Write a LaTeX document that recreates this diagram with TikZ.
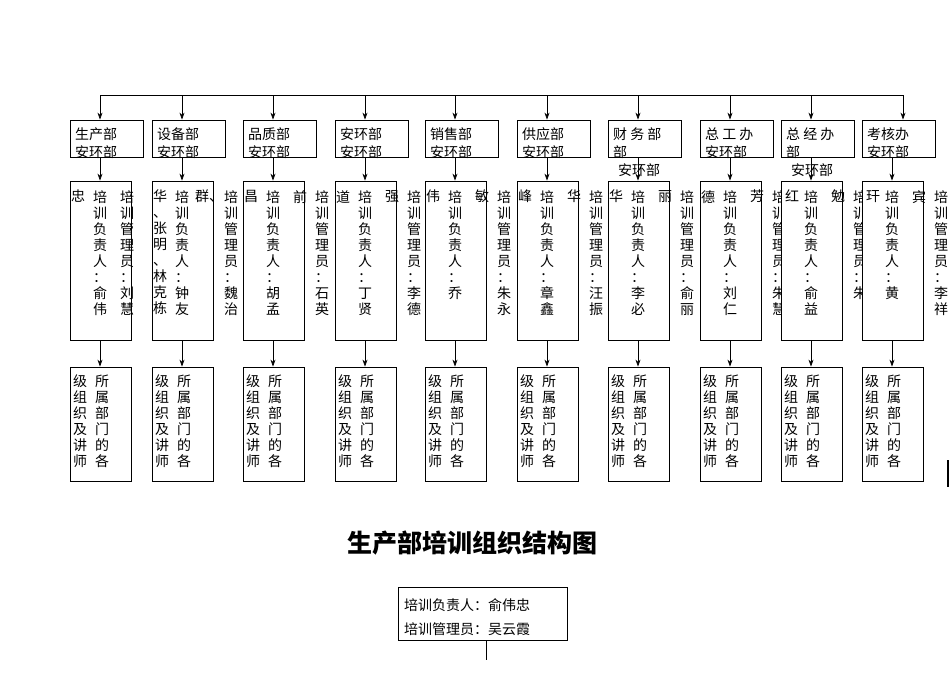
\documentclass[tikz,border=0pt]{standalone}
\usepackage{fontspec}
\newfontfamily\cjk{Noto Sans CJK SC}
\usetikzlibrary{arrows.meta}
\tikzset{
  box/.style={draw, line width=0.8pt, fill=white, inner sep=0pt},
  vt/.style={anchor=north, align=center, inner sep=0pt, font=\cjk\fontsize{14}{16}\selectfont},
  ht/.style={anchor=west, inner sep=0pt, font=\cjk\fontsize{14}{16}\selectfont},
  arr/.style={-{Stealth[length=7pt,width=5pt]}, line width=0.7pt},
  ln/.style={line width=0.7pt}
}
\newcommand{\vcol}[4]{\node[vt] (#1) at (#2,#3) {#4};}
\begin{document}
\begin{tikzpicture}[x=1pt,y=-1pt]
\useasboundingbox (0,0) rectangle (950,672);
\coordinate (tl) at (100,95);
\coordinate (tr) at (903,95);
\draw[ln] (tl) -- (tr);
\foreach \i/\L/\tx/\ta/\tb/\ma/\mb/\mc/\md in {
 1/70/生产部/安环部//忠/培\\训\\负\\责\\人\\：\\俞\\伟/培\\训\\管\\理\\员\\：\\刘\\慧/{},
 2/152/设备部/安环部//华\\、\\张\\明\\、\\林\\克\\栋/培\\训\\负\\责\\人\\：\\钟\\友/群、/培\\训\\管\\理\\员\\：\\魏\\治,
 3/243/品质部/安环部//昌/培\\训\\负\\责\\人\\：\\胡\\孟/前/培\\训\\管\\理\\员\\：\\石\\英,
 4/335/安环部/安环部//道/培\\训\\负\\责\\人\\：\\丁\\贤/强/培\\训\\管\\理\\员\\：\\李\\德,
 5/425/销售部/安环部//伟/培\\训\\负\\责\\人\\：\\乔/敏/培\\训\\管\\理\\员\\：\\朱\\永,
 6/517/供应部/安环部//峰/培\\训\\负\\责\\人\\：\\章\\鑫/华/培\\训\\管\\理\\员\\：\\汪\\振,
 7/608/财\ 务\ 部/部/安环部/华/培\\训\\负\\责\\人\\：\\李\\必/丽/培\\训\\管\\理\\员\\：\\俞\\丽,
 8/700/总\ 工\ 办/安环部//德/培\\训\\负\\责\\人\\：\\刘\\仁/芳/培\\训\\管\\理\\员\\：\\朱\\慧,
 9/781/总\ 经\ 办/部/安环部/红/培\\训\\负\\责\\人\\：\\俞\\益/勉/培\\训\\管\\理\\员\\：\\朱,
 10/862/考核办/安环部//玕/培\\训\\负\\责\\人\\：\\黄/宾/培\\训\\管\\理\\员\\：\\李\\祥}{
  \pgfmathsetmacro{\ax}{\L+30}
  \pgfmathsetmacro{\tax}{ifthenelse(\i==10,903,\L+30)}
  \pgfmathsetmacro{\mx}{ifthenelse(\i>8,\L+11,\L+8)}
  \node[box, minimum width=73pt, minimum height=37pt] (top\i) at (\L+36.5,138.5) {};
  \draw[arr] (\tax,95) -- (top\i.north -| \tax,0);
  \node[ht] (tl\i) at (\L+5,134) {\tx};
  \node[ht] (tm\i) at (\L+5,152) {\ta};
  \node[ht] (tn\i) at (\L+10,170) {\tb};
  \node[box, minimum width=61pt, minimum height=159pt] (mid\i) at (\L+30.5,260.5) {};
  \draw[arr] (\ax,157) -- (mid\i.north -| \ax,0);
  \vcol{ma\i}{\mx}{190}{\ma}
  \vcol{mb\i}{\L+30}{190}{\mb}
  \vcol{mc\i}{\L+57}{190}{\mc}
  \vcol{md\i}{\L+79}{190}{\md}
  \node[box, minimum width=61pt, minimum height=114pt] (bot\i) at (\L+30.5,424) {};
  \draw[arr] (mid\i.south -| \ax,0) -- (bot\i.north -| \ax,0);
  \vcol{ba\i}{\L+10}{375}{级\\组\\织\\及\\讲\\师}
  \vcol{bb\i}{\L+32}{375}{所\\属\\部\\门\\的\\各}
}
\draw[line width=1.2pt] (948,460) -- (948,487);
\node[font=\cjk\bfseries\fontsize{25}{28}\selectfont, inner sep=0pt] (title) at (472,543) {生产部培训组织结构图};
\node[box, minimum width=169pt, minimum height=53pt] (chief) at (482.5,613.5) {};
\node[ht] (c1) at (404,605) {培训负责人：俞伟忠};
\node[ht] (c2) at (404,629) {培训管理员：吴云霞};
\coordinate (cend) at (486,660);
\draw[ln] (chief.south -| cend) -- (cend);
\end{tikzpicture}
\end{document}
